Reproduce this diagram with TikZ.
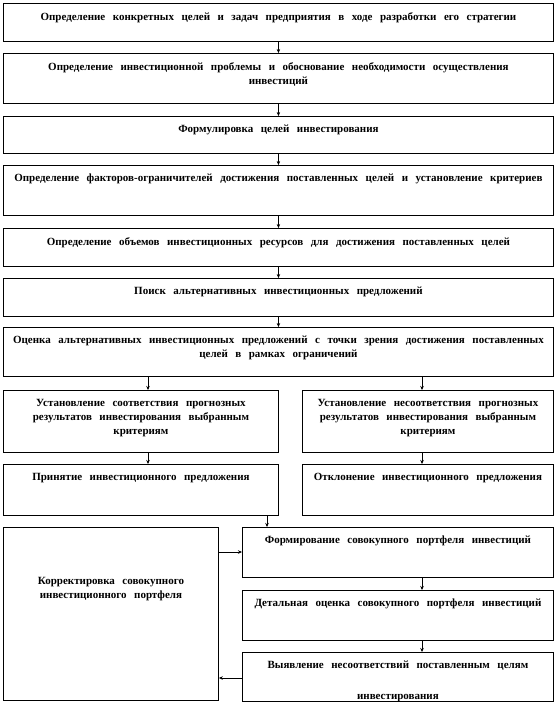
\documentclass[tikz,border=0pt]{standalone}
\usepackage{fontspec}
\setmainfont{Liberation Serif}
\usetikzlibrary{arrows.meta}
\tikzset{
  x=1pt,y=-1pt,
  box/.style={draw, line width=0.9pt, inner sep=0pt, anchor=north west},
  txt/.style={anchor=north, inner sep=0pt, align=center,
    font={\bfseries\fontsize{11}{14}\selectfont\spaceskip=7.5pt plus 3pt minus 1pt\relax}},
  arr/.style={line width=0.6pt, -{Stealth[length=4pt,width=3.5pt]}}
}
\newcommand\mkbox[6]{%
  \node[box, minimum width=#4pt, minimum height=#5pt] (#1) at (#2,#3) {};
  \node[txt] (#1t) at ([yshift=-9pt]#1.north) {#6};}
\begin{document}
\begin{tikzpicture}
\useasboundingbox (0,0) rectangle (558,706);
\mkbox{b1}{3}{3}{550}{38}{Определение конкретных целей и задач предприятия в ходе разработки его стратегии}
\mkbox{b2}{3}{53}{550}{50}{Определение инвестиционной проблемы и обоснование необходимости осуществления\\инвестиций}
\mkbox{b3}{3}{116}{550}{37}{Формулировка целей инвестирования}
\mkbox{b4}{3}{165}{550}{50}{Определение факторов-ограничителей достижения поставленных целей и установление критериев}
\mkbox{b5}{3}{228}{550}{38}{Определение объемов инвестиционных ресурсов для достижения поставленных целей}
\mkbox{b6}{3}{278}{550}{38}{Поиск альтернативных инвестиционных предложений}
\mkbox{b7}{3}{327}{550}{49}{Оценка альтернативных инвестиционных предложений с точки зрения достижения поставленных\\целей в рамках ограничений}
\mkbox{l8}{3}{390}{275}{62}{Установление соответствия прогнозных\\результатов инвестирования выбранным\\критериям}
\mkbox{r8}{302}{390}{251}{62}{Установление несоответствия прогнозных\\результатов инвестирования выбранным\\критериям}
\mkbox{l9}{3}{464}{275}{51}{Принятие инвестиционного предложения}
\mkbox{r9}{302}{464}{251}{51}{Отклонение инвестиционного предложения}
\mkbox{b10}{242}{527}{311}{50}{Формирование совокупного портфеля инвестиций}
\mkbox{b11}{242}{590}{311}{50}{Детальная оценка совокупного портфеля инвестиций}
\mkbox{b12}{242}{652}{311}{49}{Выявление несоответствий поставленным целям\\[17pt]инвестирования}
\node[box, minimum width=215pt, minimum height=173pt] (k) at (3,527) {};
\node[txt] (kt) at ([yshift=-50pt]k.north) {Корректировка совокупного\\инвестиционного портфеля};
% connectors
\draw[arr] (b1) -- (b2);
\draw[arr] (b2) -- (b3);
\draw[arr] (b3) -- (b4);
\draw[arr] (b4) -- (b5);
\draw[arr] (b5) -- (b6);
\draw[arr] (b6) -- (b7);
\draw[arr] (b7.south -| 148,0) -- (l8.north -| 148,0);
\draw[arr] (b7.south -| 422,0) -- (r8.north -| 422,0);
\draw[arr] (l8.south -| 148,0) -- (l9.north -| 148,0);
\draw[arr] (r8.south -| 422,0) -- (r9.north -| 422,0);
\draw[arr] (l9.south -| 267,0) -- (b10.north -| 267,0);
\draw[arr] (b10.south -| 422,0) -- (b11.north -| 422,0);
\draw[arr] (b11.south -| 422,0) -- (b12.north -| 422,0);
\draw[arr] (k.east |- 0,552) -- (b10.west |- 0,552);
\draw[arr] (b12.west |- 0,678) -- (k.east |- 0,678);
\end{tikzpicture}
\end{document}
